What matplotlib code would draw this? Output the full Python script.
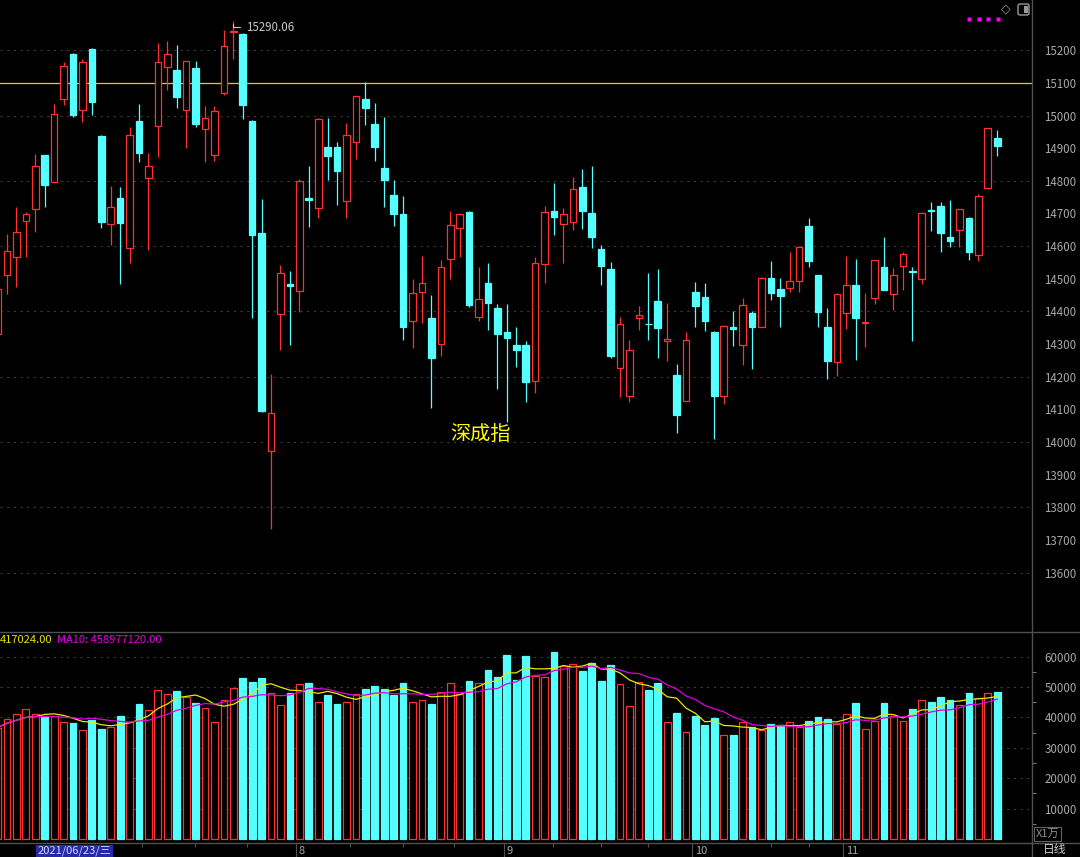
import numpy as np
import pandas as pd
import matplotlib
matplotlib.use("Agg")
import matplotlib.pyplot as plt
from matplotlib.lines import Line2D
from matplotlib.patches import FancyBboxPatch, Rectangle

plt.rcParams['font.family'] = ['Noto Sans CJK SC', 'DejaVu Sans']

# daily bars (index points)
opens = [14330, 14511, 14566, 14678, 14715, 14878, 14798, 15050, 15190, 15016,
         15204, 14938, 14667, 14748, 14594, 14984, 14808, 14969, 15150, 15141,
         15016, 15146, 14958, 14878, 15070, 15256, 15250, 14984, 14641, 13972,
         14391, 14484, 14464, 14746, 14716, 14904, 14904, 14738, 14920, 15051,
         14973, 14840, 14756, 14699, 14372, 14458, 14379, 14300, 14560, 14657,
         14705, 14383, 14486, 14410, 14338, 14297, 14297, 14188, 14545, 14708,
         14667, 14675, 14780, 14702, 14592, 14529, 14228, 14141, 14381, 14362,
         14433, 14309, 14205, 14127, 14460, 14444, 14338, 14141, 14353, 14296,
         14396, 14353, 14503, 14468, 14471, 14493, 14661, 14511, 14353, 14244,
         14394, 14480, 14366, 14441, 14537, 14453, 14538, 14522, 14499, 14711,
         14724, 14629, 14649, 14687, 14572, 14777, 14930]
highs = [14475, 14636, 14719, 14705, 14881, 14880, 15035, 15164, 15192, 15172,
         15206, 14940, 14783, 14780, 14964, 15035, 14886, 15222, 15229, 15216,
         15168, 15167, 15030, 15030, 15262, 15290, 15252, 14986, 14744, 14209,
         14542, 14524, 14806, 14847, 14992, 14992, 14918, 14978, 15060, 15103,
         15040, 14997, 14803, 14754, 14499, 14570, 14451, 14557, 14708, 14700,
         14707, 14537, 14549, 14423, 14423, 14353, 14308, 14566, 14723, 14793,
         14717, 14812, 14836, 14847, 14604, 14552, 14384, 14313, 14417, 14517,
         14529, 14425, 14238, 14338, 14491, 14486, 14340, 14359, 14401, 14440,
         14401, 14505, 14555, 14503, 14581, 14600, 14685, 14513, 14410, 14456,
         14570, 14561, 14456, 14559, 14627, 14532, 14581, 14537, 14706, 14734,
         14734, 14741, 14715, 14689, 14759, 14961, 14956]
lows = [14291, 14453, 14474, 14568, 14644, 14721, 14795, 15032, 14995, 14980,
        15002, 14657, 14602, 14484, 14548, 14859, 14588, 14874, 15078, 15022,
        14902, 14966, 14859, 14862, 15063, 15173, 14990, 14379, 14092, 13735,
        14282, 14298, 14399, 14660, 14685, 14803, 14726, 14685, 14866, 14971,
        14861, 14721, 14663, 14313, 14287, 14364, 14105, 14264, 14500, 14568,
        14415, 14372, 14343, 14162, 14062, 14231, 14124, 14149, 14486, 14633,
        14549, 14649, 14651, 14594, 14481, 14258, 14139, 14124, 14343, 14311,
        14257, 14248, 14027, 14125, 14353, 14341, 14010, 14117, 14295, 14236,
        14224, 14351, 14434, 14352, 14458, 14458, 14535, 14352, 14192, 14203,
        14347, 14252, 14290, 14424, 14465, 14405, 14466, 14308, 14484, 14647,
        14581, 14598, 14598, 14559, 14556, 14775, 14876]
closes = [14470, 14586, 14644, 14699, 14846, 14787, 15004, 15152, 15003, 15163,
          15041, 14675, 14719, 14672, 14941, 14885, 14846, 15163, 15189, 15058,
          15168, 14974, 14993, 15013, 15212, 15260, 15032, 14634, 14096, 14090,
          14517, 14479, 14800, 14742, 14990, 14876, 14829, 14941, 15059, 15023,
          14905, 14802, 14698, 14353, 14456, 14488, 14258, 14537, 14664, 14699,
          14420, 14439, 14427, 14331, 14320, 14282, 14183, 14548, 14704, 14690,
          14698, 14774, 14709, 14628, 14538, 14262, 14362, 14281, 14390, 14360,
          14349, 14315, 14084, 14312, 14418, 14371, 14141, 14355, 14345, 14419,
          14353, 14503, 14455, 14448, 14493, 14598, 14556, 14398, 14249, 14453,
          14480, 14380, 14369, 14557, 14467, 14511, 14575, 14520, 14702, 14709,
          14640, 14617, 14713, 14582, 14753, 14961, 14908]
# volume in units of 1e4
volumes = [36700, 39500, 41100, 42800, 41300, 40400, 40400, 38500, 38200, 36000,
           39300, 36100, 36800, 40400, 38500, 44400, 42500, 49000, 47800, 48800,
           46600, 44800, 43100, 38500, 45600, 49700, 53100, 51600, 53100, 48000,
           44100, 48100, 51000, 51300, 45100, 47500, 44400, 45100, 47700, 49500,
           50500, 49500, 47500, 51300, 45100, 45600, 44400, 48500, 51200, 47800,
           52100, 51500, 55600, 53400, 60600, 52400, 60200, 53500, 53300, 61400,
           57100, 57600, 55200, 57900, 51900, 57200, 51100, 43700, 51600, 49000,
           51400, 38400, 41400, 35200, 40400, 37500, 39700, 34100, 34400, 38500,
           36800, 36000, 38000, 37500, 38400, 36800, 38800, 40000, 39400, 37800,
           41100, 44700, 36200, 38800, 44700, 40400, 39000, 42800, 45600, 45000,
           46700, 45800, 44000, 48000, 46300, 47900, 48400]

month_labels = ["8", "9", "10", "11"]
month_pos = [32, 54, 74, 90]
week_pos = [15.3, 20.9, 26.4, 37.4, 43, 48.4, 58.9, 64, 69, 82, 86]
price_ticks = list(range(13600, 15300, 100))
price_grid = list(range(13600, 15300, 200))
vol_ticks = list(range(10000, 70000, 10000))

RED = '#ff3030'
CYAN = '#55ffff'
GRID = '#3c3c3c'
LABEL = '#a8a8a8'
SEP = '#505050'

W, H = 1080, 857
fig = plt.figure(figsize=(W / 100, H / 100), dpi=100, facecolor='black')

x = np.arange(len(opens))
o = np.array(opens, float)
c = np.array(closes, float)
hi = np.array(highs, float)
lo = np.array(lows, float)
up = c >= o
col = np.where(up, RED, CYAN)
xlim = (0.258, 109.69)

# price panel
ax = fig.add_axes([0, 1 - 632 / H, 1032 / W, 632 / H], facecolor='black')
ax.set_xlim(*xlim)
ax.set_ylim(13418, 15354)
for g in price_grid:
    ax.axhline(g, color=GRID, lw=0.8, ls=(0, (2, 4)), zorder=0)
ax.axhline(15100, color='#d8d800', lw=0.9, zorder=1)
ax.vlines(x, lo, hi, colors=col, lw=0.9, zorder=2)
body_lo = np.minimum(o, c)
body_h = np.maximum(np.abs(c - o), 2.5)
ax.bar(x, body_h, bottom=body_lo, width=0.7,
       color=np.where(up, 'black', CYAN), edgecolor=col, linewidth=0.9, zorder=3)

ax.yaxis.tick_right()
ax.set_yticks(price_ticks)
ax.tick_params(axis='y', length=0, pad=9, labelcolor=LABEL, labelsize=8.3)
ax.set_xticks([])
for s in ax.spines.values():
    s.set_visible(False)

# max label
ax.annotate('15290.06', xy=(25, 15290), xytext=(26.3, 15271), color='#c8c8c8',
            fontsize=8.3, va='center', ha='left',
            arrowprops=dict(arrowstyle='-', color='#c8c8c8', lw=0.8,
                            connectionstyle='angle,angleA=0,angleB=90'))
ax.text(480 / 1032, 1 - 434 / 632, '深成指', transform=ax.transAxes, color='#ffff00',
        fontsize=14.5, ha='center', va='center')

# volume panel
ax2 = fig.add_axes([0, 14 / H, 1032 / W, 211 / H], facecolor='black')
ax2.set_xlim(*xlim)
ax2.set_ylim(-1283, 68125)
for g in vol_ticks:
    ax2.axhline(g, color=GRID, lw=0.8, ls=(0, (2, 4)), zorder=0)
ax2.bar(x, volumes, width=0.72, color=np.where(up, 'black', CYAN),
        edgecolor=col, linewidth=0.9, zorder=2)
vs = pd.Series(volumes)
ax2.plot(x, vs.rolling(5, min_periods=1).mean(), color='#e8e800', lw=0.9, zorder=3)
ax2.plot(x, vs.rolling(10, min_periods=1).mean(), color='#e000e0', lw=0.9, zorder=3)
ax2.yaxis.tick_right()
ax2.set_yticks(vol_ticks)
ax2.set_yticks([v + 5000 for v in range(0, 60000, 10000)], minor=True)
ax2.tick_params(axis='y', which='major', length=0, pad=9, labelcolor=LABEL, labelsize=8.3)
ax2.tick_params(axis='y', which='minor', length=3, width=0.8, color='#777777')
ax2.set_xticks([])
for s in ax2.spines.values():
    s.set_visible(False)

fig.text(0, 1 - 640 / H, '417024.00', color='#e8e800', fontsize=8, va='center', ha='left')
fig.text(57 / W, 1 - 640 / H, 'MA10: 458977120.00', color='#e000e0', fontsize=8,
         va='center', ha='left')

# bottom date strip
ax3 = fig.add_axes([0, 0, 1032 / W, 14 / H], facecolor='black')
ax3.set_xlim(*xlim)
ax3.set_ylim(0, 1)
ax3.axis('off')
for p, lab in zip(month_pos, month_labels):
    ax3.vlines(p - 0.35, 0, 1, colors=SEP, lw=0.8)
    ax3.text(p - 0.05, 0.45, lab, color=LABEL, fontsize=8, va='center', ha='left')
ax3.vlines(week_pos, 0.75, 1, colors=SEP, lw=0.8)
ax3.text(4.25, 0.42, '2021/06/23/三', color='#d8d8ff', fontsize=8, va='center', ha='left',
         bbox=dict(boxstyle='square,pad=0.12', facecolor='#2828a8', edgecolor='none'))

# separators
fig.add_artist(Line2D([1032 / W, 1032 / W], [0, 1], color=SEP, lw=1))
fig.add_artist(Line2D([0, 1], [1 - 632 / H, 1 - 632 / H], color=SEP, lw=1))
fig.add_artist(Line2D([0, 1], [14 / H, 14 / H], color=SEP, lw=1))

fig.text(1036 / W, 1 - 834 / H, 'X1万', color='#909090', fontsize=8, va='center', ha='left',
         bbox=dict(boxstyle='square,pad=0.15', facecolor='black', edgecolor='#606060', lw=0.8))
fig.text(1055 / W, 1 - 850 / H, '日线', color='#d0d0d0', fontsize=8.5, va='center', ha='center')

# top-right decorations
fig.add_artist(Line2D([969 / W, 978.7 / W, 988.3 / W, 997.7 / W], [1 - 19 / H] * 4,
                      ls='none', marker='s', ms=2.3, color='#ff00ff', mec='none'))
fig.text(1006 / W, 1 - 9 / H, '◇', color='#9a9a9a', fontsize=9, va='center', ha='center',
         family='DejaVu Sans')
fig.add_artist(FancyBboxPatch((1018 / W, 1 - 15 / H), 11 / W, 11 / H,
                              boxstyle='round,pad=0,rounding_size=0.002',
                              transform=fig.transFigure, facecolor='none',
                              edgecolor='#9a9a9a', lw=1))
fig.add_artist(Rectangle((1024 / W, 1 - 13 / H), 4 / W, 7 / H, transform=fig.transFigure,
                         facecolor='#9a9a9a', edgecolor='none'))

fig.savefig('out.png', dpi=100, facecolor='black')
